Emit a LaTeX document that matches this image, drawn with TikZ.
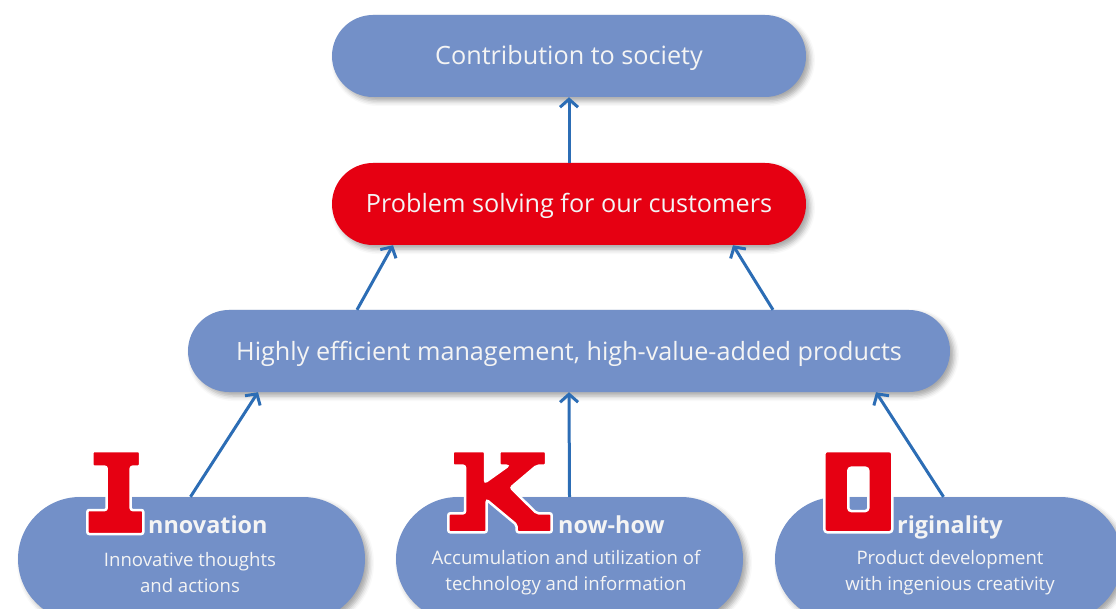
\documentclass[tikz,border=0pt]{standalone}
\usepackage{fontspec}
\setmainfont{Open Sans}
\usetikzlibrary{arrows.meta,shadows.blur}
\definecolor{pillblue}{HTML}{7390C8}
\definecolor{pillred}{HTML}{E60012}
\definecolor{arrowblue}{HTML}{2C6DB5}
\definecolor{textwhite}{HTML}{F4F4F4}
\begin{document}
\begin{tikzpicture}[x=1pt,y=-1pt,
  softshadow/.style={blur shadow={shadow xshift=4pt, shadow yshift=-4pt,
      shadow opacity=35, shadow blur radius=5pt}},
  pill/.style={rectangle, rounded corners=41pt, minimum width=474pt,
      minimum height=82pt, inner sep=0pt, fill=pillblue, text=textwhite,
      text height=18pt, text depth=0pt,
      font=\fontsize{25.2}{30}\selectfont, softshadow},
  widepill/.style={pill, minimum width=762pt},
  basepill/.style={rectangle, rounded corners=62pt, minimum width=347pt,
      minimum height=124pt, inner sep=0pt, fill=pillblue, softshadow},
  title/.style={anchor=base west, inner sep=0pt, text=textwhite,
      font=\fontsize{23.4}{28}\selectfont\bfseries},
  subtext/.style={align=center, inner sep=0pt, text=textwhite,
      font=\fontsize{18.6}{26}\selectfont},
  link/.style={draw=arrowblue, line width=3pt,
      -{Straight Barb[length=8pt,width=18pt]}},
  glyph/.style={fill=pillred, draw=white, line width=2.5pt,
      rounded corners=2pt, even odd rule}]
\useasboundingbox (0,0) rectangle (1116,609);
\clip (0,0) rectangle (1116,609);

% main chain
\node[pill] (society) at (569,56) {Contribution to society};
\node[pill, fill=pillred] (solve) at (569,204) {Problem solving for our customers};
\node[widepill] (mgmt) at (569,351) {Highly efficient management, high-value-added products};

% three pillars
\node[basepill] (inno) at (191.5,559) {};
\node[basepill] (know) at (569.5,559) {};
\node[basepill] (orig) at (948.5,559) {};

% connectors
\draw[link] (solve.north) -- (society.south);
\draw[link] ([xshift=-212pt]mgmt.north) -- ([xshift=-176pt]solve.south);
\draw[link] ([xshift=204pt]mgmt.north) -- ([xshift=164pt]solve.south);
\draw[link] ([xshift=-1pt]inno.north) -- ([xshift=-311pt]mgmt.south);
\draw[link] (know.north) -- (mgmt.south);
\draw[link] ([xshift=-5pt]orig.north) -- ([xshift=307pt]mgmt.south);

% initial letters
\path[glyph] (92.3,451) -- (140,451) -- (140,466.7) -- (130.7,466.7)
  -- (130.7,510) -- (143.3,510) -- (143.3,534) -- (87.3,534) -- (87.3,510)
  -- (106.7,510) -- (106.7,466.7) -- (92.3,466.7) -- cycle;
\path[glyph] (452.7,451) -- (485,451) -- (485,482.3) -- (508.3,465.7)
  -- (499.3,465.7) -- (499.3,451) -- (546,451) -- (546,465.7)
  -- (536.7,465.7) -- (510.7,487.7) -- (536.7,513.3) -- (551.7,513.3)
  -- (551.7,532.3) -- (516.7,532.3) -- (516.7,525) -- (486.7,500)
  -- (486.7,532.3) -- (448.3,532.3) -- (448.3,513.3) -- (465,513.3)
  -- (465,465.7) -- (452.7,465.7) -- cycle;
\path[glyph, rounded corners=3pt] (824.3,451) rectangle (892.3,532.3)
  (848.3,467.7) rectangle (868.3,511);

% pillar texts
\node[title] (innoT) at (148,533) {nnovation};
\node[title] (knowT) at (558,533) {now-how};
\node[title] (origT) at (897,533) {riginality};
\node[subtext] (innoS) at (190,573) {Innovative thoughts\\and actions};
\node[subtext] (knowS) at (566,573) {Accumulation and utilization of\\technology and information};
\node[subtext] (origS) at (950,573) {Product development\\with ingenious creativity};
\end{tikzpicture}
\end{document}
